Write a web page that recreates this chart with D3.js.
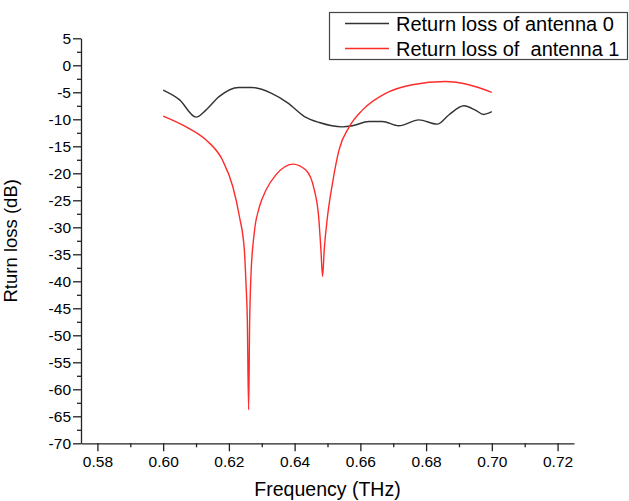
<!DOCTYPE html>
<html>
<head>
<meta charset="utf-8">
<script src="https://cdn.jsdelivr.net/npm/d3@7"></script>
<style>
  body { margin: 0; background: #fff; }
  text { font-family: Arial, "Liberation Sans", sans-serif; }
</style>
</head>
<body>
<div id="chart"></div>
<script>
// antenna 0 (black)
const freq0 = [0.600, 0.605, 0.610, 0.613, 0.617, 0.623, 0.627, 0.633, 0.638, 0.643, 0.6475,
  0.6545, 0.6576, 0.6626, 0.6667, 0.6717, 0.6778, 0.6834, 0.6869, 0.6915, 0.695, 0.6975, 0.700]
const loss0 = [-4.6, -6.4, -9.6, -8.3, -5.8, -4.1, -4.1, -5.2, -7.0, -9.5, -10.6,
  -11.4, -11.2, -10.4, -10.4, -11.2, -10.1, -10.9, -9.2, -7.5, -8.3, -9.1, -8.6]

// antenna 1 (red)
const freq1 = [0.600, 0.607, 0.613, 0.618, 0.6212, 0.6232, 0.6247, 0.6252, 0.6256, 0.6260,
  0.6263, 0.6267, 0.6277, 0.6293, 0.6313, 0.6343, 0.6394, 0.6434, 0.6460, 0.6473, 0.6480,
  0.6485, 0.6490, 0.6500, 0.6515, 0.6535, 0.6566, 0.6606, 0.6677, 0.6758, 0.6859, 0.6930, 0.700]
const loss1 = [-9.4, -11.4, -13.8, -17.5, -22.5, -28.0, -34.2, -40.4, -47.0, -63.8,
  -48.0, -39.1, -31.1, -26.2, -23.1, -20.3, -18.3, -19.4, -23.1, -28.0, -34.2,
  -39.1, -34.2, -28.0, -21.9, -15.7, -11.4, -8.3, -5.2, -3.6, -3.0, -3.6, -5.0]

const xTicks = [0.58, 0.60, 0.62, 0.64, 0.66, 0.68, 0.70, 0.72]
const yTicks = [5, 0, -5, -10, -15, -20, -25, -30, -35, -40, -45, -50, -55, -60, -65, -70]

const seriesNames = ["Return loss of antenna 0", "Return loss of  antenna 1"]
const seriesColors = ["#333333", "#ff2a2a"]

const width = 629
const height = 501
const margin = { top: 38.3, right: 55, bottom: 57.7, left: 81 }

const svg = d3.select("#chart")
  .append("svg")
  .attr("width", width)
  .attr("height", height)

const xScale = d3.scaleLinear()
  .domain([0.575, 0.725])
  .range([margin.left, width - margin.right])

const yScale = d3.scaleLinear()
  .domain([-70, 5])
  .range([height - margin.bottom, margin.top])

// minor ticks first, major on top
const xMinor = d3.range(0.59, 0.725, 0.02)
const yMinor = d3.range(2.5, -70, -5)

svg.append("g")
  .attr("transform", `translate(0,${height - margin.bottom})`)
  .call(d3.axisBottom(xScale).tickValues(xMinor).tickSize(4).tickFormat("").tickSizeOuter(0))
  .call(g => g.select(".domain").remove())

svg.append("g")
  .attr("transform", `translate(${margin.left},0)`)
  .call(d3.axisLeft(yScale).tickValues(yMinor).tickSize(4).tickFormat("").tickSizeOuter(0))
  .call(g => g.select(".domain").remove())

const xAxis = svg.append("g")
  .attr("transform", `translate(0,${height - margin.bottom})`)
  .call(d3.axisBottom(xScale).tickValues(xTicks).tickSize(8).tickSizeOuter(0).tickPadding(5)
    .tickFormat(d => d.toFixed(2)))

const yAxis = svg.append("g")
  .attr("transform", `translate(${margin.left},0)`)
  .call(d3.axisLeft(yScale).tickValues(yTicks).tickSize(8).tickSizeOuter(0).tickPadding(2)
    .tickFormat(d => String(d)))

svg.selectAll(".tick line, .domain").attr("stroke", "#222").attr("stroke-width", 1.3)
svg.selectAll(".tick text").attr("font-size", 15.5).attr("fill", "#000")
  .attr("font-family", "Arial, 'Liberation Sans', sans-serif")

// axis titles
svg.append("text")
  .attr("x", (margin.left + width - margin.right) / 2)
  .attr("y", 496)
  .attr("text-anchor", "middle")
  .attr("font-size", 19.5)
  .attr("fill", "#000")
  .text("Frequency (THz)")

svg.append("text")
  .attr("transform", `translate(17,${(margin.top + height - margin.bottom) / 2}) rotate(-90)`)
  .attr("text-anchor", "middle")
  .attr("font-size", 18.5)
  .attr("fill", "#000")
  .text("Rturn loss (dB)")

// lines
const line = d3.line()
  .x(d => xScale(d[0]))
  .y(d => yScale(d[1]))
  .curve(d3.curveMonotoneX)

const series = [
  d3.zip(freq0, loss0),
  d3.zip(freq1, loss1)
]

svg.selectAll("path.series")
  .data(series)
  .join("path")
  .attr("class", "series")
  .attr("fill", "none")
  .attr("stroke", (d, i) => seriesColors[i])
  .attr("stroke-width", 1.4)
  .attr("d", line)

// legend
const legend = svg.append("g")

legend.append("rect")
  .attr("x", 329.5)
  .attr("y", 12.5)
  .attr("width", 298)
  .attr("height", 47)
  .attr("fill", "#fff")
  .attr("stroke", "#444")
  .attr("stroke-width", 1.2)

seriesNames.forEach((name, i) => {
  const yy = 23.5 + i * 25
  legend.append("line")
    .attr("x1", 345).attr("x2", 389)
    .attr("y1", yy).attr("y2", yy)
    .attr("stroke", seriesColors[i])
    .attr("stroke-width", 1.3)
  legend.append("text")
    .attr("x", 396)
    .attr("y", yy + 7)
    .attr("font-size", 20)
    .attr("fill", "#000")
    .attr("xml:space", "preserve")
    .style("white-space", "pre")
    .text(name)
})
</script>
</body>
</html>
